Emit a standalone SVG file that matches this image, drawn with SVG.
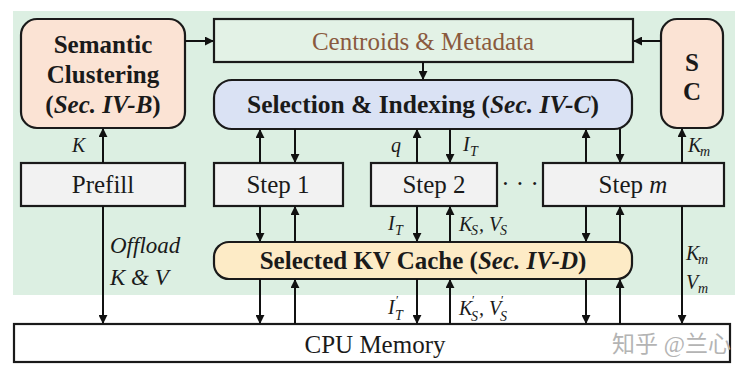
<svg xmlns="http://www.w3.org/2000/svg" width="750" height="375" viewBox="0 0 750 375" font-family="Liberation Serif">
<defs>
<marker id="ah" viewBox="0 0 10 10" refX="9" refY="5" markerWidth="4.5" markerHeight="4.5" orient="auto-start-reverse" markerUnits="strokeWidth">
<path d="M0,0 L10,5 L0,10 z" fill="#111"/>
</marker>
<style>
text{font-family:'Liberation Serif','Noto Sans CJK SC',serif}
.box{stroke:#1a1a1a;stroke-width:2.2}
.lbl{font-size:25px;fill:#1a1a1a}
.b{font-weight:bold}
.i{font-style:italic}
.sm{font-size:20px;font-style:italic;fill:#1a1a1a}
.sub{font-size:14px;font-style:italic}
.pr{font-size:12px;font-style:normal}
.c line{stroke:#111;stroke-width:2;marker-end:url(#ah)}
</style>
</defs>
<rect x="0" y="0" width="750" height="375" fill="#ffffff"/>
<rect x="13" y="11" width="722" height="284" fill="#dcefe2"/>

<g id="semantic-clustering">
<rect class="box" x="21" y="19" width="164" height="109" rx="16" fill="#fbe3d4"/>
<text class="lbl b" x="103" y="53" text-anchor="middle">Semantic</text>
<text class="lbl b" x="103" y="83" text-anchor="middle">Clustering</text>
<text class="lbl b" x="103" y="113" text-anchor="middle">(<tspan class="i">Sec. IV-B</tspan>)</text>
</g>

<g id="centroids">
<rect class="box" x="214" y="19" width="419" height="43" fill="#e3f2e6"/>
<text class="lbl" x="423" y="50" text-anchor="middle" style="fill:#8a5a3e">Centroids &amp; Metadata</text>
</g>

<g id="sc-right">
<rect class="box" x="661" y="19" width="62" height="109" rx="16" fill="#fbe3d4"/>
<text class="lbl b" x="692" y="71" text-anchor="middle">S</text>
<text class="lbl b" x="692" y="100" text-anchor="middle">C</text>
</g>

<g id="selection-indexing">
<rect class="box" x="214" y="80" width="418" height="49" rx="18" fill="#dae2f4"/>
<text class="lbl b" x="423" y="113" text-anchor="middle" style="font-size:25.5px">Selection &amp; Indexing (<tspan class="i">Sec. IV-C</tspan>)</text>
</g>

<g id="prefill">
<rect class="box" x="21" y="163" width="164" height="43" fill="#f2f2f2"/>
<text class="lbl" x="103" y="193" text-anchor="middle">Prefill</text>
</g>

<g id="step1">
<rect class="box" x="214" y="163" width="129" height="43" fill="#f2f2f2"/>
<text class="lbl" x="278" y="193" text-anchor="middle">Step 1</text>
</g>

<g id="step2">
<rect class="box" x="371" y="163" width="126" height="43" fill="#f2f2f2"/>
<text class="lbl" x="434" y="193" text-anchor="middle">Step 2</text>
</g>

<g id="dots">
<text class="lbl" x="520" y="192" text-anchor="middle">· · ·</text>
</g>

<g id="stepm">
<rect class="box" x="543" y="163" width="181" height="43" fill="#f2f2f2"/>
<text class="lbl" x="633" y="193" text-anchor="middle">Step <tspan class="i">m</tspan></text>
</g>

<g id="selected-kv-cache">
<rect class="box" x="214" y="242" width="418" height="37" rx="15" fill="#fdebc6"/>
<text class="lbl b" x="423" y="269" text-anchor="middle">Selected KV Cache (<tspan class="i">Sec. IV-D</tspan>)</text>
</g>

<g id="cpu-memory">
<rect class="box" x="14" y="324" width="716" height="38" fill="#ffffff"/>
<text class="lbl" x="375" y="353" text-anchor="middle">CPU Memory</text>
<text x="612" y="352" style="font-size:23px;fill:#b4b4b4">知乎 @兰心</text>
</g>

<g id="connectors" class="c">
<line x1="185" y1="41" x2="213" y2="41"/>
<line x1="661" y1="41" x2="634" y2="41"/>
<line x1="423" y1="62" x2="423" y2="79"/>
<line x1="103" y1="163" x2="103" y2="129"/>
<line x1="260" y1="163" x2="260" y2="130"/>
<line x1="295" y1="129" x2="295" y2="162"/>
<line x1="417" y1="163" x2="417" y2="130"/>
<line x1="450" y1="129" x2="450" y2="162"/>
<line x1="586" y1="163" x2="586" y2="130"/>
<line x1="620" y1="129" x2="620" y2="162"/>
<line x1="682" y1="163" x2="682" y2="129"/>
<line x1="260" y1="206" x2="260" y2="241"/>
<line x1="295" y1="242" x2="295" y2="207"/>
<line x1="417" y1="206" x2="417" y2="241"/>
<line x1="450" y1="242" x2="450" y2="207"/>
<line x1="586" y1="206" x2="586" y2="241"/>
<line x1="620" y1="242" x2="620" y2="207"/>
<line x1="260" y1="279" x2="260" y2="323"/>
<line x1="295" y1="324" x2="295" y2="280"/>
<line x1="417" y1="279" x2="417" y2="323"/>
<line x1="450" y1="324" x2="450" y2="280"/>
<line x1="586" y1="279" x2="586" y2="323"/>
<line x1="620" y1="324" x2="620" y2="280"/>
<line x1="103" y1="206" x2="103" y2="323"/>
<line x1="682" y1="206" x2="682" y2="323"/>
</g>

<g id="labels">
<text class="sm" x="72" y="152">K</text>
<text class="sm" x="391" y="152">q</text>
<text class="sm" x="463" y="151">I<tspan class="sub" x="470" y="156">T</tspan></text>
<text class="sm" x="688" y="152">K<tspan class="sub" x="700" y="156">m</tspan></text>
<text class="sm" x="110" y="253" style="font-size:23px">Offload</text>
<text class="sm" x="110" y="285" style="font-size:23px">K &amp; V</text>
<text class="sm" x="388" y="230">I<tspan class="sub" x="395" y="235">T</tspan></text>
<text class="sm" x="459" y="231">K<tspan class="sub" x="471" y="235">S</tspan><tspan x="479" y="231">, V</tspan><tspan class="sub" x="500" y="235">S</tspan></text>
<text class="sm" x="686" y="260">K<tspan class="sub" x="698" y="264">m</tspan></text>
<text class="sm" x="686" y="289">V<tspan class="sub" x="698" y="293">m</tspan></text>
<text class="sm" x="388" y="314">I<tspan class="pr" x="396" y="304">′</tspan><tspan class="sub" x="395" y="320">T</tspan></text>
<text class="sm" x="459" y="315">K<tspan class="pr" x="472" y="304">′</tspan><tspan class="sub" x="471" y="321">S</tspan><tspan x="479" y="315">, V</tspan><tspan class="pr" x="501" y="304">′</tspan><tspan class="sub" x="500" y="321">S</tspan></text>
</g>
</svg>
